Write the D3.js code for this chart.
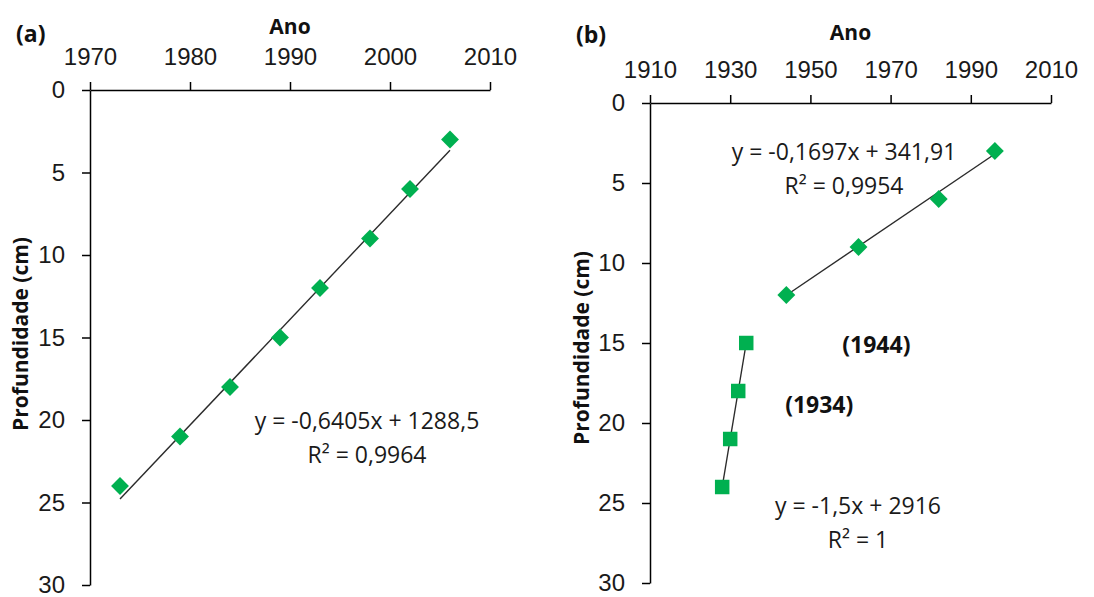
<!DOCTYPE html>
<html>
<head>
<meta charset="utf-8">
<script src="https://cdn.jsdelivr.net/npm/d3@7"></script>
<style>
  html, body { margin: 0; padding: 0; background: #fff; }
  svg { display: block; font-family: "Open Sans", "DejaVu Sans", sans-serif; }
  .tick text { fill: #1a1a1a; }
  .domain, .tick line { stroke: #000; stroke-width: 1.5px; }
</style>
</head>
<body>
<svg id="chart" width="1094" height="597"></svg>
<script>
// Panel (a): dated core, single linear fit
const yearsA = [1973, 1979, 1984, 1989, 1993, 1998, 2002, 2006];
const depthA = [24, 21, 18, 15, 12, 9, 6, 3];
const fitA = [-0.6405, 1288.5];            // slope, intercept
const fitLabelA = ["y = -0,6405x + 1288,5", "R\u00B2 = 0,9964"];

// Panel (b): lower segment (squares) and upper segment (diamonds)
const yearsB1 = [1928, 1930, 1932, 1934];
const depthB1 = [24, 21, 18, 15];
const fitB1 = [-1.5, 2916];
const fitLabelB1 = ["y = -1,5x + 2916", "R\u00B2 = 1"];

const yearsB2 = [1944, 1962, 1982, 1996];
const depthB2 = [12, 9, 6, 3];
const fitB2 = [-0.1697, 341.91];
const fitLabelB2 = ["y = -0,1697x + 341,91", "R\u00B2 = 0,9954"];

const notesB = ["(1944)", "(1934)"];

// Axis ticks
const xTicksA = [1970, 1980, 1990, 2000, 2010];
const xTicksB = [1910, 1930, 1950, 1970, 1990, 2010];
const yTicks = [0, 5, 10, 15, 20, 25, 30];

const GREEN = "#00b050";
const svg = d3.select("#chart");

function panel(cfg) {
  const x = d3.scaleLinear().domain(cfg.xDomain).range(cfg.xRange);
  const y = d3.scaleLinear().domain([0, 30]).range(cfg.yRange);
  const g = svg.append("g");

  g.append("g")
    .attr("transform", `translate(0,${cfg.yRange[0]})`)
    .call(d3.axisTop(x).tickValues(cfg.xTicks).tickFormat(d3.format("d"))
      .tickSize(8).tickSizeOuter(0).tickPadding(17))
    .call(a => a.selectAll("text").style("font-size", "24px"));

  g.append("g")
    .attr("transform", `translate(${cfg.xRange[0]},0)`)
    .call(d3.axisLeft(y).tickValues(yTicks).tickFormat(d3.format("d"))
      .tickSize(8).tickSizeOuter(0).tickPadding(17))
    .call(a => a.selectAll("text").style("font-size", "24px"));

  // panel letter
  g.append("text").attr("x", cfg.letterPos[0]).attr("y", cfg.letterPos[1])
    .style("font-size", "23px").style("font-weight", "bold").attr("fill", "#111")
    .text(cfg.letter);

  // axis titles
  g.append("text")
    .attr("x", (cfg.xRange[0] + cfg.xRange[1]) / 2).attr("y", cfg.titleY)
    .attr("text-anchor", "middle")
    .style("font-size", "21px").style("font-weight", "bold").attr("fill", "#111")
    .text("Ano");
  g.append("text")
    .attr("transform", `translate(${cfg.yTitleX},${cfg.yTitleY}) rotate(-90)`)
    .attr("text-anchor", "middle")
    .style("font-size", "21px").style("font-weight", "bold").attr("fill", "#111")
    .text("Profundidade (cm)");

  return { g, x, y };
}

function trend(p, xs, fit) {
  const ext = d3.extent(xs);
  const pts = ext.map(v => [v, fit[0] * v + fit[1]]);
  p.g.append("path")
    .attr("d", d3.line().x(d => p.x(d[0])).y(d => p.y(d[1]))(pts))
    .attr("stroke", "#2b2b2b").attr("stroke-width", 1.4).attr("fill", "none");
}

function markers(p, xs, ys, shape) {
  const diamond = shape === "diamond";
  const sym = d3.symbol().type(d3.symbolSquare).size(diamond ? 160 : 210);
  p.g.selectAll(null).data(xs.map((v, i) => [v, ys[i]])).join("path")
    .attr("d", sym)
    .attr("transform", d => `translate(${p.x(d[0])},${p.y(d[1])})` + (diamond ? " rotate(45)" : ""))
    .attr("fill", GREEN);
}

function fitLabel(p, lines, cx, y0) {
  lines.forEach((t, i) => {
    p.g.append("text").attr("x", cx).attr("y", y0 + i * 34)
      .attr("text-anchor", "middle").style("font-size", "23px").attr("fill", "#1a1a1a")
      .text(t);
  });
}

// ---- panel (a)
const pa = panel({
  xDomain: [1970, 2010], xRange: [90, 490], yRange: [90, 585],
  xTicks: xTicksA, letter: "(a)", letterPos: [16, 42], titleY: 34,
  yTitleX: 28, yTitleY: 334
});
trend(pa, yearsA, fitA);
markers(pa, yearsA, depthA, "diamond");
fitLabel(pa, fitLabelA, 367, 429);

// ---- panel (b)
const pb = panel({
  xDomain: [1910, 2010], xRange: [650, 1051], yRange: [103, 583],
  xTicks: xTicksB, letter: "(b)", letterPos: [576, 43], titleY: 40,
  yTitleX: 589, yTitleY: 348
});
trend(pb, yearsB1, fitB1);
trend(pb, yearsB2, fitB2);
markers(pb, yearsB1, depthB1, "square");
markers(pb, yearsB2, depthB2, "diamond");
fitLabel(pb, fitLabelB2, 844, 160);
fitLabel(pb, fitLabelB1, 858, 514);

pb.g.append("text").attr("x", pb.x(1944) + 90).attr("y", 353)
  .attr("text-anchor", "middle").style("font-size", "23px").style("font-weight", "bold")
  .attr("fill", "#111").text(notesB[0]);
pb.g.append("text").attr("x", pb.x(1934) + 73).attr("y", 413)
  .attr("text-anchor", "middle").style("font-size", "23px").style("font-weight", "bold")
  .attr("fill", "#111").text(notesB[1]);
</script>
</body>
</html>
